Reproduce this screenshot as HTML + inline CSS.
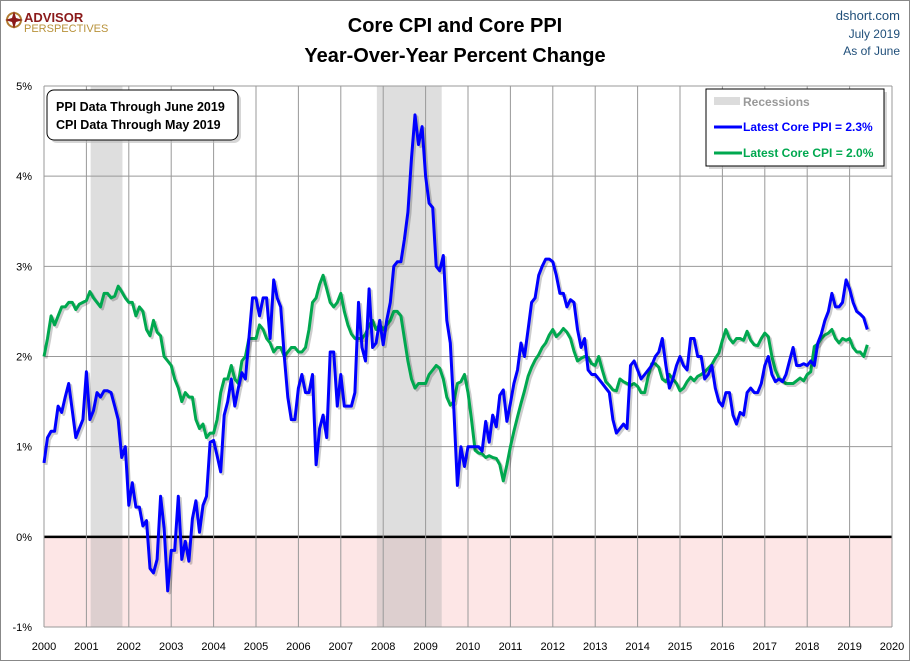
<!DOCTYPE html>
<html><head><meta charset="utf-8"><style>
body{margin:0;background:#fff;}
svg{display:block;font-family:"Liberation Sans",sans-serif;}
</style></head><body>
<svg id="chart" width="910" height="661" viewBox="0 0 910 661">
<rect x="0.5" y="0.5" width="909" height="660" fill="#fff" stroke="#888"/>
<g>
<circle cx="14" cy="20" r="7" fill="none" stroke="#b07a30" stroke-width="2"/>
<path d="M14 11 L16 18 L23 20 L16 22 L14 29 L12 22 L5 20 L12 18 Z" fill="#8b1a1a"/>
<text x="24" y="22" font-size="13" font-weight="bold" fill="#8b1a1a">ADVISOR</text>
<text x="24" y="32" font-size="11" fill="#b8923a">PERSPECTIVES</text>
</g>
<text x="455" y="32" text-anchor="middle" font-size="20" font-weight="bold" fill="#000">Core CPI and Core PPI</text>
<text x="455" y="62" text-anchor="middle" font-size="20" font-weight="bold" fill="#000">Year-Over-Year Percent Change</text>
<text x="900" y="20" text-anchor="end" font-size="13" fill="#1f4e79">dshort.com</text>
<text x="900" y="38" text-anchor="end" font-size="12" fill="#1f4e79">July 2019</text>
<text x="900" y="55" text-anchor="end" font-size="12" fill="#1f4e79">As of June</text>
<g id="plot"></g>
<g>
<rect x="50" y="93" width="191" height="50" rx="7" fill="#bbb" opacity="0.6"/>
<rect x="47" y="90" width="191" height="50" rx="7" fill="#fff" stroke="#000"/>
<text x="56" y="111" font-size="12.5" font-weight="bold">PPI Data Through June 2019</text>
<text x="56" y="129" font-size="12.5" font-weight="bold">CPI Data Through May 2019</text>
</g>
<g>
<rect x="709" y="92" width="178" height="77" fill="#bbb" opacity="0.6"/>
<rect x="706" y="89" width="178" height="77" fill="#fff" stroke="#000"/>
<rect x="714" y="97" width="26" height="8" fill="#dcdcdc"/>
<text x="743" y="106" font-size="12" font-weight="bold" fill="#999">Recessions</text>
<line x1="714" y1="127" x2="742" y2="127" stroke="#0000ff" stroke-width="3"/>
<text x="743" y="131" font-size="12" font-weight="bold" fill="#0000ff">Latest Core PPI = 2.3%</text>
<line x1="714" y1="153" x2="742" y2="153" stroke="#00a84f" stroke-width="3"/>
<text x="743" y="157" font-size="12" font-weight="bold" fill="#00a84f">Latest Core CPI = 2.0%</text>
</g>
</svg>
<script>
const yTicks=[-1,0,1,2,3,4,5];
const xYears=[2000,2001,2002,2003,2004,2005,2006,2007,2008,2009,2010,2011,2012,2013,2014,2015,2016,2017,2018,2019,2020];
const recessionStarts=[2001.1,2007.85];
const recessionEnds=[2001.85,2009.38];
const ppi=[
0.82,1.1,1.17,1.17,1.45,1.38,1.55,1.7,1.4,1.1,1.2,1.3,
1.83,1.3,1.4,1.6,1.55,1.62,1.62,1.6,1.45,1.3,0.88,1.0,
0.35,0.6,0.33,0.33,0.12,0.18,-0.35,-0.4,-0.25,0.45,0.1,-0.6,
-0.15,-0.15,0.45,-0.25,-0.05,-0.27,0.2,0.4,0.05,0.35,0.45,1.05,
1.07,0.9,0.72,1.35,1.5,1.75,1.45,1.65,1.82,1.75,2.2,2.65,
2.65,2.45,2.65,2.65,2.2,2.85,2.65,2.55,2.0,1.55,1.3,1.3,
1.65,1.8,1.6,1.6,1.8,0.8,1.2,1.35,1.1,2.05,2.05,1.45,
1.8,1.45,1.45,1.45,1.6,2.6,2.1,1.95,2.75,2.1,2.15,2.4,
2.13,2.4,2.6,3.0,3.05,3.05,3.3,3.6,4.2,4.68,4.35,4.55,
4.0,3.7,3.65,3.0,2.95,3.12,2.4,2.15,1.4,0.57,1.0,0.78,
1.0,1.0,1.0,1.0,0.95,1.28,1.05,1.35,1.22,1.57,1.63,1.28,
1.48,1.7,1.85,2.15,2.0,2.3,2.6,2.65,2.9,3.0,3.08,3.08,
3.05,2.9,2.7,2.7,2.55,2.63,2.6,2.3,2.1,2.2,1.85,1.8,
1.8,1.75,1.7,1.65,1.6,1.3,1.15,1.2,1.25,1.2,1.9,1.95,
1.85,1.75,1.8,1.85,1.9,2.0,2.05,2.2,1.9,1.65,1.75,1.9,
2.0,1.9,1.85,2.2,2.2,2.0,2.0,1.75,1.8,1.9,1.65,1.5,
1.45,1.6,1.6,1.35,1.25,1.38,1.35,1.6,1.65,1.6,1.6,1.7,
1.9,2.0,1.8,1.72,1.75,1.72,1.8,1.95,2.1,1.9,1.9,1.92,
1.9,1.95,1.9,2.15,2.25,2.4,2.5,2.7,2.55,2.55,2.6,2.85,
2.75,2.6,2.5,2.47,2.43,2.3];
const cpi=[
2.0,2.2,2.45,2.35,2.45,2.55,2.55,2.6,2.6,2.52,2.58,2.6,
2.62,2.72,2.65,2.6,2.55,2.7,2.7,2.65,2.67,2.78,2.72,2.65,
2.6,2.6,2.45,2.55,2.5,2.3,2.23,2.4,2.27,2.23,2.0,1.95,
1.9,1.75,1.65,1.5,1.6,1.55,1.55,1.3,1.2,1.25,1.1,1.15,
1.15,1.3,1.6,1.75,1.75,1.9,1.75,1.7,1.95,2.0,2.2,2.2,
2.2,2.35,2.3,2.2,2.15,2.05,2.1,2.1,2.0,2.05,2.1,2.1,
2.05,2.05,2.1,2.3,2.6,2.65,2.8,2.9,2.75,2.6,2.55,2.6,
2.7,2.5,2.35,2.25,2.2,2.2,2.2,2.25,2.35,2.4,2.3,2.35,
2.3,2.35,2.4,2.5,2.5,2.45,2.2,1.95,1.75,1.65,1.7,1.7,
1.7,1.8,1.85,1.9,1.87,1.75,1.55,1.46,1.5,1.7,1.72,1.8,
1.6,1.3,0.96,0.93,0.92,0.88,0.9,0.88,0.87,0.8,0.62,0.8,
1.0,1.17,1.33,1.48,1.62,1.78,1.88,1.96,2.02,2.1,2.15,2.24,
2.3,2.22,2.26,2.31,2.27,2.2,2.06,1.95,1.98,2.0,1.99,1.92,
1.9,2.0,1.85,1.72,1.68,1.63,1.62,1.75,1.72,1.7,1.68,1.7,
1.67,1.6,1.6,1.78,1.92,1.92,1.88,1.75,1.72,1.8,1.75,1.7,
1.62,1.65,1.72,1.77,1.73,1.78,1.8,1.83,1.87,1.91,1.98,2.04,
2.18,2.3,2.2,2.15,2.2,2.2,2.18,2.28,2.18,2.13,2.12,2.2,
2.26,2.22,2.0,1.85,1.76,1.73,1.7,1.7,1.7,1.73,1.76,1.73,
1.8,1.83,2.11,2.14,2.2,2.24,2.26,2.3,2.2,2.15,2.2,2.18,
2.2,2.1,2.05,2.05,2.0,2.13];
const NS='http://www.w3.org/2000/svg';
const X0=44,X1=892,Y0=627,Y1=86,VMIN=-1,VMAX=5;
function xs(yr){return X0+(yr-2000)/20*(X1-X0);}
function ys(v){return Y0-(v-VMIN)/(VMAX-VMIN)*(Y0-Y1);}
function mk(tag,attrs,parent){const e=document.createElementNS(NS,tag);for(const k in attrs)e.setAttribute(k,attrs[k]);parent.appendChild(e);return e;}
const g=document.getElementById('plot');
mk('rect',{x:X0,y:ys(0),width:X1-X0,height:Y0-ys(0),fill:'#fde6e6'},g);
for(let i=0;i<recessionStarts.length;i++){
const r=mk('rect',{x:xs(recessionStarts[i]),y:Y1,width:xs(recessionEnds[i])-xs(recessionStarts[i]),height:Y0-Y1,fill:'#b0b0b0',opacity:0.42},g);


}
yTicks.forEach(v=>{
const l=mk('line',{x1:X0,x2:X1,y1:ys(v),y2:ys(v),stroke:v===0?'#000':'#999','stroke-width':v===0?2.5:1},g);


const t=mk('text',{x:32,y:ys(v)+4,'text-anchor':'end','font-size':11,fill:'#000'},g);
t.textContent=v+'%';


});
xYears.forEach(yr=>{
const l=mk('line',{x1:xs(yr),x2:xs(yr),y1:Y1,y2:Y0,stroke:'#999','stroke-width':1},g);


const t=mk('text',{x:xs(yr),y:650,'text-anchor':'middle','font-size':11,fill:'#000'},g);
t.textContent=yr;


});
function pts(arr){return arr.map((v,i)=>xs(2000+i/12).toFixed(1)+','+ys(v).toFixed(1)).join(' ');}
[[cpi,'#00a84f','cpi-line'],[ppi,'#0000ff','ppi-line']].forEach(([arr,col,name])=>{
const s=mk('polyline',{points:pts(arr),fill:'none',stroke:'#000',opacity:0.2,'stroke-width':3,transform:'translate(2,2)','stroke-linejoin':'round'},g);


const p=mk('polyline',{points:pts(arr),fill:'none',stroke:col,'stroke-width':3,'stroke-linejoin':'round'},g);


});
</script>
</body></html>
